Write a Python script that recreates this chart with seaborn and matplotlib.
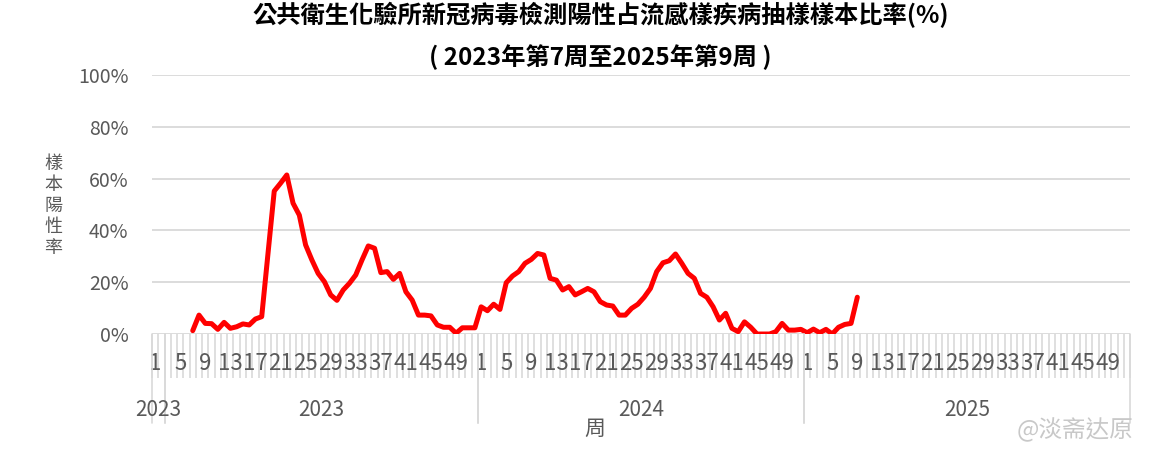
import matplotlib
matplotlib.use("Agg")
import matplotlib.pyplot as plt
import matplotlib.transforms as mtransforms
import seaborn as sns
import pandas as pd

# weekly positivity (%), 2023 w7 .. 2025 w9
years = [2023, 2024, 2025]
weeks_per_year = 52
rate_2023 = [1.3, 7.3, 4.1, 4.0, 1.8, 4.5, 2.2, 2.8, 3.9, 3.5,
             5.8, 6.7, 31.0, 55.2, 58.2, 61.4, 50.5, 45.9, 34.4, 28.6,
             23.4, 20.2, 15.1, 13.0, 17.0, 19.6, 22.8, 28.6, 34.0, 33.1,
             23.7, 24.1, 21.1, 23.4, 16.3, 13.1, 7.3, 7.3, 7.0, 3.5,
             2.6, 2.6, 0.3, 2.4, 2.4, 2.4]
rate_2024 = [10.5, 9.0, 11.5, 9.5, 19.8, 22.4, 24.1, 27.3, 28.8, 31.1,
             30.5, 21.5, 20.8, 17.0, 18.3, 15.1, 16.3, 17.6, 16.3, 12.5,
             11.2, 10.8, 7.3, 7.3, 9.9, 11.5, 14.2, 17.6, 24.1, 27.5,
             28.3, 30.9, 27.3, 23.4, 21.5, 15.7, 14.2, 10.5, 5.4, 8.0,
             2.2, 0.9, 4.7, 2.6, 0.0, 0.0, 0.0, 0.9, 4.1, 1.5,
             1.5, 1.8]
rate_2025 = [0.5, 1.9, 0.5, 1.8, 0.0, 2.6, 3.7, 4.1, 14.2]
first_week = {2023: 7, 2024: 1, 2025: 1}
week_labels = [1, 5, 9, 13, 17, 21, 25, 29, 33, 37, 41, 45, 49]
y_ticks = [0, 20, 40, 60, 80, 100]

rows = []
for yr, vals in zip(years, [rate_2023, rate_2024, rate_2025]):
    off = (yr - years[0]) * weeks_per_year
    for i, v in enumerate(vals):
        wk = first_week[yr] + i
        rows.append({"year": yr, "week": wk, "pos": off + wk - 1, "rate": v})
df = pd.DataFrame(rows)

sns.set_style("white")
plt.rcParams["font.family"] = ["Noto Sans CJK TC", "DejaVu Sans"]

GREY = "#595959"
LIGHT = "#d9d9d9"
n_cat = weeks_per_year * len(years)

fig = plt.figure(figsize=(11.62, 4.55), dpi=100)
ax = fig.add_axes([0.1308, 0.2659, 0.8417, 0.5693])

sns.lineplot(data=df, x="pos", y="rate", color="#ff0000", linewidth=3.6,
             solid_joinstyle="round", solid_capstyle="round", ax=ax)

ax.set_xlim(-0.5, n_cat - 0.5)
ax.set_ylim(0, 100)
ax.set_yticks(y_ticks)
ax.set_yticklabels([f"{t}%" for t in y_ticks])
ax.yaxis.grid(True, color=LIGHT, linewidth=1.3)
ax.set_axisbelow(True)
for s in ax.spines.values():
    s.set_visible(False)
ax.tick_params(axis="y", length=0, pad=17, labelsize=14, labelcolor=GREY)

# category boundary ticks (major, drawn first) and week labels (minor, drawn on top)
ax.set_xticks([i - 0.5 for i in range(n_cat + 1)])
ax.set_xticklabels([])
ax.tick_params(axis="x", which="major", bottom=True, length=31.5, width=1.2,
               color=LIGHT)
pos_lab, txt_lab = [], []
for k in range(len(years)):
    for w in week_labels:
        pos_lab.append(k * weeks_per_year + w - 1)
        txt_lab.append(str(w))
ax.set_xticks(pos_lab, minor=True)
ax.set_xticklabels(txt_lab, minor=True)
ax.tick_params(axis="x", which="minor", bottom=True, length=0, pad=13,
               labelsize=16, labelcolor=GREY)
ax.set_xlabel("")
ax.set_ylabel("")

# year group separators and labels
trans = mtransforms.blended_transform_factory(ax.transData, ax.transAxes)
groups = [(2023, -0.5, 1.5), (2023, 1.5, 51.5), (2024, 51.5, 103.5), (2025, 103.5, 155.5)]
for yr, a, b in groups:
    for xx in (a, b):
        ax.plot([xx, xx], [0, -0.343], transform=trans, color=LIGHT,
                linewidth=1.2, clip_on=False)
    ax.text((a + b) / 2, -0.295, str(yr), transform=trans, ha="center",
            va="center", fontsize=15, color=GREY)

ax.text(0.453, -0.365, "周", transform=ax.transAxes, ha="center", va="center",
        fontsize=15, color=GREY)
fig.text(0.046, 0.548, "樣\n本\n陽\n性\n率", ha="center", va="center",
         fontsize=13, color=GREY, linespacing=1.22)

fig.text(0.517, 0.967, "公共衛生化驗所新冠病毒檢測陽性占流感樣疾病抽樣樣本比率(%)",
         ha="center", va="center", fontsize=17.5, fontweight="bold", color="black")
fig.text(0.517, 0.875, "( 2023年第7周至2025年第9周 )",
         ha="center", va="center", fontsize=17.5, fontweight="bold", color="black")

fig.text(0.925, 0.055, "@淡斋达原", ha="center", va="center",
         fontsize=17, color="#c8c8c8")

fig.savefig("out.png", dpi=100)
